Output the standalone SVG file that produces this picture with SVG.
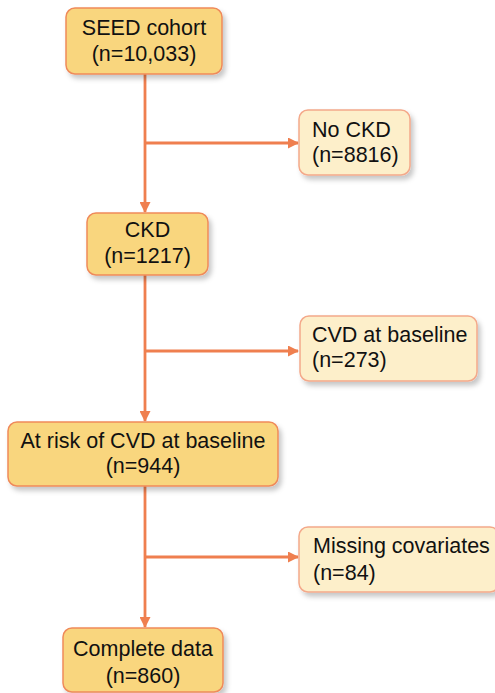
<svg xmlns="http://www.w3.org/2000/svg" width="495" height="693" viewBox="0 0 495 693">
<defs>
<filter id="sh" x="-10%" y="-10%" width="130%" height="140%">
<feDropShadow dx="3" dy="4" stdDeviation="2.5" flood-color="#000" flood-opacity="0.22"/>
</filter>
<marker id="ah" markerWidth="11" markerHeight="11" refX="10" refY="5.5" orient="auto" markerUnits="userSpaceOnUse">
<path d="M0,0 L11,5.5 L0,11 Z" fill="#ef7f4f"/>
</marker>
<style>
.main{fill:#f9d67e;stroke:#ef8a5a;stroke-width:1.5;filter:url(#sh)}
.side{fill:#fdefca;stroke:#f4a98a;stroke-width:1.5;filter:url(#sh)}
text{font-family:"Liberation Sans",Arial,sans-serif;font-size:21.5px;fill:#111}
.c{text-anchor:middle}
.ln{stroke:#ef7f4f;stroke-width:2.8;fill:none}
</style>
</defs>
<g id="connectors">
<line class="ln" x1="145" y1="74" x2="145" y2="212" marker-end="url(#ah)"/>
<line class="ln" x1="145" y1="143" x2="298" y2="143" marker-end="url(#ah)"/>
<line class="ln" x1="145" y1="275" x2="145" y2="421" marker-end="url(#ah)"/>
<line class="ln" x1="145" y1="351" x2="298" y2="351" marker-end="url(#ah)"/>
<line class="ln" x1="145" y1="486" x2="145" y2="627" marker-end="url(#ah)"/>
<line class="ln" x1="145" y1="557" x2="298" y2="557" marker-end="url(#ah)"/>
</g>
<g id="seed">
<rect class="main" x="66" y="8" width="156" height="66" rx="9"/>
<text class="c" x="144" y="35">SEED cohort</text>
<text class="c" x="144" y="61">(n=10,033)</text>
</g>
<g id="nockd">
<rect class="side" x="299" y="110" width="111" height="65" rx="9"/>
<text x="312" y="137">No CKD</text>
<text x="312" y="162">(n=8816)</text>
</g>
<g id="ckd">
<rect class="main" x="87" y="213" width="121" height="62" rx="9"/>
<text class="c" x="147.5" y="237">CKD</text>
<text class="c" x="147.5" y="263">(n=1217)</text>
</g>
<g id="cvd">
<rect class="side" x="300" y="316" width="177" height="65" rx="9"/>
<text x="312" y="342">CVD at baseline</text>
<text x="312" y="367">(n=273)</text>
</g>
<g id="atrisk">
<rect class="main" x="8" y="422" width="270" height="64" rx="9"/>
<text class="c" x="143" y="448">At risk of CVD at baseline</text>
<text class="c" x="143" y="473">(n=944)</text>
</g>
<g id="missing">
<rect class="side" x="299" y="527" width="200" height="65" rx="9"/>
<text x="313" y="553">Missing covariates</text>
<text x="313" y="580">(n=84)</text>
</g>
<g id="complete">
<rect class="main" x="63" y="628" width="160" height="64" rx="9"/>
<text class="c" x="143" y="656">Complete data</text>
<text class="c" x="143" y="683">(n=860)</text>
</g>
</svg>
